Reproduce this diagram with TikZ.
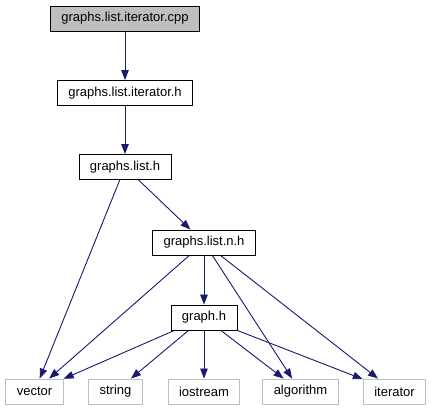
\documentclass[tikz,border=0pt]{standalone}
\usepackage{fontspec}
\setmainfont{Liberation Sans}
\usetikzlibrary{arrows.meta}
\definecolor{edgeblue}{HTML}{191970}
\definecolor{boxgray}{HTML}{BFBFBF}

\begin{document}
\begin{tikzpicture}[x=1pt,y=-1pt,->,>={Triangle[length=10pt,width=7.5pt]},
                    edgeblue,line width=0.9pt,
                    file node/.style={rectangle,draw=black,text=black,minimum height=25pt,
                      inner xsep=11pt,inner ysep=0pt,font=\fontsize{13}{15}\selectfont},
                    ext node/.style={file node,draw=boxgray}]

  \useasboundingbox (0,0) rectangle (431,411);

  \node[file node,fill=boxgray] (cpp) at (125,18.5) {graphs.list.iterator.cpp};
  \node[file node] (itrh) at (125,93) {graphs.list.iterator.h};
  \node[file node] (listh) at (125,167) {graphs.list.h};
  \node[file node] (listnh) at (204,242.5) {graphs.list.n.h};
  \node[file node] (graphh) at (204,317.5) {graph.h};
  \node[ext node] (vector) at (34.5,391.5) {vector};
  \node[ext node] (string) at (115.5,391.5) {string};
  \node[ext node] (iostream) at (204,391.5) {iostream};
  \node[ext node] (algorithm) at (300.5,391.5) {algorithm};
  \node[ext node] (iterator) at (394.5,391.5) {iterator};

  \path
    (cpp) edge (itrh)
    (itrh) edge (listh)
    (listh) edge (vector)
            edge (listnh)
    (listnh) edge (vector)
             edge (graphh)
             edge (algorithm)
             edge (iterator)
    (graphh) edge (vector)
             edge (string)
             edge (iostream)
             edge (algorithm)
             edge (iterator);

\end{tikzpicture}
\end{document}
